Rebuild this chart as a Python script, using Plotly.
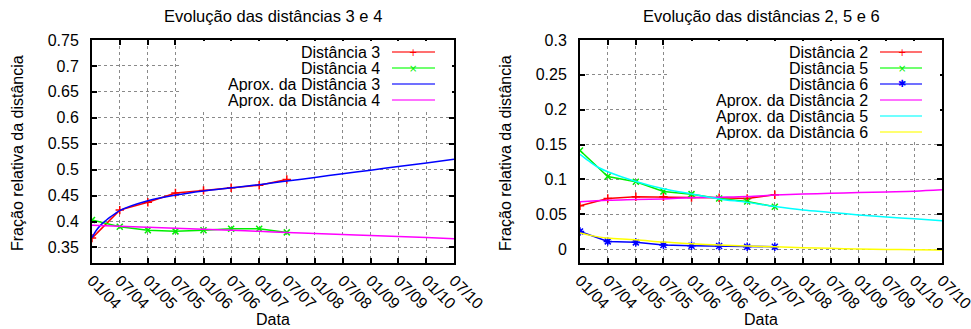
import plotly.graph_objects as go

W, H = 971, 329
FONT = "Liberation Sans, Arial, sans-serif"
FS = 16

# ---------------- data ----------------
dates = ["2004-01-01", "2004-07-01", "2005-01-01", "2005-07-01",
         "2006-01-01", "2006-07-01", "2007-01-01", "2007-07-01"]
tick_dates = ["2004-01-01", "2004-07-01", "2005-01-01", "2005-07-01",
              "2006-01-01", "2006-07-01", "2007-01-01", "2007-07-01",
              "2008-01-01", "2008-07-01", "2009-01-01", "2009-07-01",
              "2010-01-01", "2010-07-01"]
tick_labels = ["01/04", "07/04", "01/05", "07/05", "01/06", "07/06", "01/07",
               "07/07", "01/08", "07/08", "01/09", "07/09", "01/10", "07/10"]

# left panel
dist3 = [0.368, 0.422, 0.437, 0.455, 0.460, 0.465, 0.470, 0.481]
dist4 = [0.403, 0.390, 0.383, 0.381, 0.383, 0.386, 0.386, 0.379]
fit3_dates = ["2004-01-01", "2004-02-01", "2004-03-01", "2004-04-01",
              "2004-05-01", "2004-06-01"] + tick_dates[1:]
fit3 = [0.369, 0.384, 0.394, 0.402, 0.409, 0.415,
        0.421, 0.440, 0.451, 0.459, 0.465, 0.471, 0.478,
        0.485, 0.492, 0.499, 0.506, 0.513, 0.520]
fit4 = [0.393, 0.391, 0.389, 0.387, 0.385, 0.383, 0.381,
        0.379, 0.377, 0.375, 0.373, 0.371, 0.369, 0.367]

# right panel
dist2 = [0.062, 0.0726, 0.075, 0.075, 0.074, 0.0736, 0.0726, 0.078]
dist5 = [0.1414, 0.104, 0.0965, 0.0827, 0.0788, 0.0726, 0.0683, 0.0607]
dist6 = [0.0253, 0.011, 0.0096, 0.0057, 0.0048, 0.0043, 0.0033, 0.0033]
fit2 = [0.068, 0.070, 0.071, 0.072, 0.0736, 0.0745, 0.0755,
        0.0774, 0.079, 0.080, 0.081, 0.082, 0.083, 0.085]
fit56_dates = ["2004-01-01", "2004-03-01", "2004-05-01"] + tick_dates[1:]
fit5 = [0.136, 0.126, 0.117,
        0.111, 0.097, 0.0865, 0.079, 0.072, 0.067, 0.061,
        0.056, 0.0526, 0.049, 0.046, 0.0435, 0.0406]
fit6 = [0.023, 0.020, 0.0175,
        0.0158, 0.0134, 0.010, 0.0076, 0.0057, 0.0043, 0.0033,
        0.002, 0.001, 0.0, -0.0005, -0.001, -0.0014]

left_yticks = [0.35, 0.4, 0.45, 0.5, 0.55, 0.6, 0.65, 0.7, 0.75]
left_ylabels = ["0.35", "0.4", "0.45", "0.5", "0.55", "0.6", "0.65", "0.7", "0.75"]
right_yticks = [0, 0.05, 0.1, 0.15, 0.2, 0.25, 0.3]
right_ylabels = ["0", "0.05", "0.1", "0.15", "0.2", "0.25", "0.3"]

titles = ["Evolução das distâncias 3 e 4", "Evolução das distâncias 2, 5 e 6"]
ytitle = "Fração relativa da distância"
xtitle = "Data"

RED, GREEN, BLUE = "#ff0000", "#00ee00", "#0000ff"
MAG, CYAN, YEL = "#ff00ff", "#00ffff", "#ffff00"

# ---------------- geometry (window pixels) ----------------
panels = [dict(x0=92, x1=454), dict(x0=580, x1=942)]
PY0, PY1 = 40, 263


def px(x):
    return x / W


def py(y):
    return 1 - y / H


fig = go.Figure()


def data_trace(x, y, color, symbol, name, xa, ya, size=6):
    fig.add_trace(go.Scatter(
        x=x, y=y, mode="lines+markers", name=name,
        line=dict(color=color, width=1.5),
        marker=dict(symbol=symbol, size=size, color=color,
                    line=dict(color=color, width=1.5)),
        xaxis=xa, yaxis=ya, showlegend=False))


def fit_trace(x, y, color, name, xa, ya):
    fig.add_trace(go.Scatter(
        x=x, y=y, mode="lines", name=name, line_shape="spline",
        line=dict(color=color, width=1.5),
        xaxis=xa, yaxis=ya, showlegend=False))


# left
data_trace(dates, dist3, RED, "cross-thin", "Distância 3", "x", "y")
data_trace(dates, dist4, GREEN, "x-thin", "Distância 4", "x", "y")
fit_trace(fit3_dates, fit3, BLUE, "Aprox. da Distância 3", "x", "y")
fit_trace(tick_dates, fit4, MAG, "Aprox. da Distância 4", "x", "y")
# right
data_trace(dates, dist2, RED, "cross-thin", "Distância 2", "x2", "y2")
data_trace(dates, dist5, GREEN, "x-thin", "Distância 5", "x2", "y2")
data_trace(dates, dist6, BLUE, "asterisk-open", "Distância 6", "x2", "y2", size=7)
fit_trace(tick_dates, fit2, MAG, "Aprox. da Distância 2", "x2", "y2")
fit_trace(fit56_dates, fit5, CYAN, "Aprox. da Distância 5", "x2", "y2")
fit_trace(fit56_dates, fit6, YEL, "Aprox. da Distância 6", "x2", "y2")

font = dict(family=FONT, size=FS, color="black")


def xaxis_cfg(p):
    return dict(
        domain=[px(p["x0"]), px(p["x1"])], type="date",
        range=[tick_dates[0], tick_dates[-1]],
        tickvals=tick_dates, ticktext=tick_labels, tickangle=45,
        ticks="inside", ticklen=5, tickwidth=1.5, tickcolor="black",
        showline=True, linecolor="black", linewidth=2, mirror="ticks",
        showgrid=True, gridcolor="#8a8a8a", griddash="dot", gridwidth=1,
        zeroline=False, tickfont=font, ticklabelstandoff=0,
        ticklabeloverflow="allow")


def yaxis_cfg(rng, tv, tt):
    return dict(
        domain=[py(PY1), py(PY0)], range=rng,
        tickvals=tv, ticktext=tt,
        ticks="inside", ticklen=5, tickwidth=1.5, tickcolor="black",
        showline=True, linecolor="black", linewidth=2, mirror="ticks",
        showgrid=True, gridcolor="#8a8a8a", griddash="dot", gridwidth=1,
        zeroline=False, tickfont=font, ticklabelstandoff=8)


ann = []
shapes = []

# titles and axis titles
for p, t in zip(panels, titles):
    cx = (p["x0"] + p["x1"]) / 2
    ann.append(dict(text=t, x=px(cx), y=py(16), xref="paper", yref="paper",
                    xanchor="center", yanchor="middle", showarrow=False,
                    font=dict(font, size=16.5)))
    ann.append(dict(text=xtitle, x=px(cx), y=py(319), xref="paper", yref="paper",
                    xanchor="center", yanchor="middle", showarrow=False, font=font))
for xx in (18, 506):
    ann.append(dict(text=ytitle, x=px(xx), y=py(153), xref="paper", yref="paper",
                    textangle=-90, xanchor="center", yanchor="middle",
                    showarrow=False, font=font))

# custom gnuplot-style keys
LIGHT = {RED: "#ff7070", GREEN: "#70ff70", BLUE: "#7070ff",
         MAG: "#ff70ff", CYAN: "#70ffff", YEL: "#ffff70"}
keys = [
    dict(box=(181, 41, 452, 109), tx=382, lx0=392, lx1=435, mx=413,
         items=[("Distância 3", RED, "+"), ("Distância 4", GREEN, "×"),
                ("Aprox. da Distância 3", BLUE, None),
                ("Aprox. da Distância 4", MAG, None)]),
    dict(box=(668, 41, 940, 140), tx=870, lx0=880, lx1=922, mx=902,
         items=[("Distância 2", RED, "+"), ("Distância 5", GREEN, "×"),
                ("Distância 6", BLUE, "✱"),
                ("Aprox. da Distância 2", MAG, None),
                ("Aprox. da Distância 5", CYAN, None),
                ("Aprox. da Distância 6", YEL, None)]),
]
ROW = 16
for k in keys:
    bx0, by0, bx1, by1 = k["box"]
    shapes.append(dict(type="rect", xref="paper", yref="paper",
                       x0=px(bx0), x1=px(bx1), y0=py(by1), y1=py(by0),
                       fillcolor="white", line=dict(width=0), layer="above"))
    for i, (label, col, mk) in enumerate(k["items"]):
        yy = 52 + ROW * i
        ann.append(dict(text=label, x=px(k["tx"]), y=py(yy), xref="paper", yref="paper",
                        xanchor="right", yanchor="middle", showarrow=False,
                        height=ROW, valign="middle", font=font))
        shapes.append(dict(type="line", xref="paper", yref="paper",
                           x0=px(k["lx0"]), x1=px(k["lx1"]), y0=py(yy), y1=py(yy),
                           line=dict(color=LIGHT[col], width=2), layer="above"))
        if mk:
            ann.append(dict(text=mk, x=px(k["mx"]), y=py(yy), xref="paper", yref="paper",
                            xanchor="center", yanchor="middle", showarrow=False,
                            font=dict(family="DejaVu Sans", size=10, color=col)))

fig.update_layout(
    template="none",
    width=W, height=H,
    margin=dict(l=0, r=0, t=0, b=0, autoexpand=False),
    paper_bgcolor="white", plot_bgcolor="white",
    showlegend=False,
    font=font,
    xaxis=dict(xaxis_cfg(panels[0]), anchor="y"),
    yaxis=dict(yaxis_cfg([0.32, 0.75], left_yticks, left_ylabels), anchor="x"),
    xaxis2=dict(xaxis_cfg(panels[1]), anchor="y2"),
    yaxis2=dict(yaxis_cfg([-0.02, 0.3], right_yticks, right_ylabels), anchor="x2"),
    annotations=ann,
    shapes=shapes,
)

fig.write_html("out.html",
               config={"displayModeBar": False},
               post_script="document.body.style.margin='0';"
                           "document.body.style.overflow='hidden';")
